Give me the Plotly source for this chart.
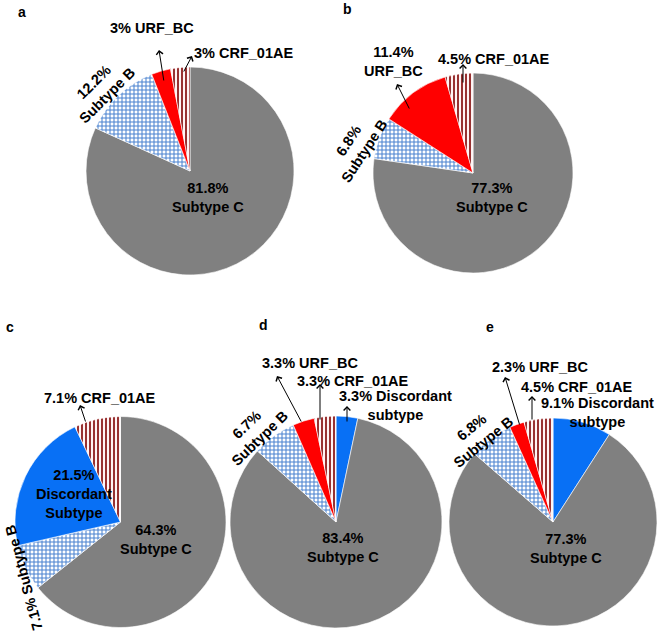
import plotly.graph_objects as go

W, H = 660, 631

# ---------------- data ----------------
panel_letters = ["a", "b", "c", "d", "e"]

cats_a = ["Subtype C", "Subtype B", "URF_BC", "CRF_01AE"]
vals_a = [81.8, 12.2, 3, 3]

cats_b = ["Subtype C", "Subtype B", "URF_BC", "CRF_01AE"]
vals_b = [77.3, 6.8, 11.4, 4.5]

cats_c = ["Subtype C", "Subtype B", "Discordant Subtype", "CRF_01AE"]
vals_c = [64.3, 7.1, 21.5, 7.1]

cats_d = ["Discordant subtype", "Subtype C", "Subtype B", "URF_BC", "CRF_01AE"]
vals_d = [3.3, 83.4, 6.7, 3.3, 3.3]

cats_e = ["Discordant subtype", "Subtype C", "Subtype B", "URF_BC", "CRF_01AE"]
vals_e = [9.1, 77.3, 6.8, 2.3, 4.5]

# ---------------- styles ----------------
GRAY = "#808080"
RED = "#FF0000"
BLUE = "#0870F5"
BGRID = "#4a82d0"
CRFLINE = "#8c1c1c"

style = {
    "Subtype C": dict(color=GRAY, shape="", fg=GRAY, bg=GRAY),
    "Subtype B": dict(color=BGRID, shape="+", fg=BGRID, bg="#ffffff"),
    "URF_BC": dict(color=RED, shape="", fg=RED, bg=RED),
    "CRF_01AE": dict(color=CRFLINE, shape="|", fg=CRFLINE, bg="#fff4f4"),
    "Discordant Subtype": dict(color=BLUE, shape="", fg=BLUE, bg=BLUE),
    "Discordant subtype": dict(color=BLUE, shape="", fg=BLUE, bg=BLUE),
}

# pie geometry (pixel center and radius)
geom = {
    "a": (190, 171, 104),
    "b": (473, 173, 100),
    "c": (120.5, 522, 105.5),
    "d": (336, 522, 106),
    "e": (553, 522, 104),
}
letter_pos = {"a": (22, 12), "b": (348, 9), "c": (10, 327), "d": (263, 325), "e": (490, 327)}

# label layout: (slice index, text cx, cy, angle, mode, arrow head (x,y), arrow tail (x,y))
labels = {
    "a": [
        (0, 208, 198, 0, "stack", None, None),
        (1, 101, 89, -45, "stack", None, None),
        (2, 152, 28, 0, "inline", (159, 50), (164, 82)),
        (3, 243, 53, 0, "inline", (192, 56), (183, 73)),
    ],
    "b": [
        (0, 492, 198, 0, "stack", None, None),
        (1, 357, 146, -57, "stack", None, None),
        (2, 393, 61, 0, "stack", (397, 84), (410, 110)),
        (3, 494, 59, 0, "inline", (463, 64), (463, 84)),
    ],
    "c": [
        (0, 156, 539, 0, "stack", None, None),
        (1, 24, 578, -105, "inline", None, None),
        (2, 74, 494, 0, "stack3", None, None),
        (3, 100, 398, 0, "inline", (80, 405), (86, 423)),
    ],
    "d": [
        (0, 395, 405, 0, "split", (347, 406), (347, 423)),
        (1, 343, 547, 0, "stack", None, None),
        (2, 253, 431, -44, "stack", None, None),
        (3, 310, 363, 0, "inline", (277, 376), (302, 423)),
        (4, 353, 381, 0, "inline", (320, 384), (320, 421)),
    ],
    "e": [
        (0, 597, 412, 0, "split", None, None),
        (1, 566, 548, 0, "stack", None, None),
        (2, 478, 435, -39, "stack", None, None),
        (3, 540, 367, 0, "inline", (505, 377), (520, 426)),
        (4, 577, 387, 0, "inline", (532, 396), (532, 421)),
    ],
}

panels = {"a": (cats_a, vals_a), "b": (cats_b, vals_b), "c": (cats_c, vals_c),
          "d": (cats_d, vals_d), "e": (cats_e, vals_e)}

FONT = "Liberation Sans, Arial, sans-serif"
FS = 14.5


def px(x):
    return x / W


def py(y):
    return 1 - y / H


fig = go.Figure()
annotations = []

for key in panel_letters:
    cats, vals = panels[key]
    cx, cy, r = geom[key]
    st = [style[c] for c in cats]
    fig.add_trace(go.Pie(
        labels=cats, values=vals, sort=False, direction="clockwise", rotation=0,
        textinfo="none", hoverinfo="label+value", showlegend=False,
        domain=dict(x=[px(cx - r), px(cx + r)], y=[py(cy + r), py(cy - r)]),
        marker=dict(
            colors=[s["color"] for s in st],
            line=dict(color="#ffffff", width=0.6),
            pattern=dict(
                shape=[s["shape"] for s in st],
                fgcolor=[s["fg"] for s in st],
                bgcolor=[s["bg"] for s in st],
                fillmode="replace",
                size=4, solidity=0.45,
            ),
        ),
    ))

    lx, ly = letter_pos[key]
    annotations.append(dict(x=px(lx), y=py(ly), xref="paper", yref="paper",
                            text=f"<b>{key}</b>", showarrow=False,
                            font=dict(family=FONT, size=14, color="#000"),
                            xanchor="center", yanchor="middle"))

    for (i, tx, ty, ang, mode, head, tail) in labels[key]:
        pct = f"{vals[i]:g}%"
        name = cats[i]
        if mode == "inline":
            txt = f"{pct} {name}"
        elif mode == "stack":
            txt = f"{pct}<br>{name}"
        elif mode == "stack3":
            txt = pct + "<br>" + name.replace(" ", "<br>")
        else:  # split
            first, rest = name.split(" ", 1)
            txt = f"{pct} {first}<br>{rest}"
        txt = "<br>".join(f"<b>{p}</b>" for p in txt.split("<br>"))
        annotations.append(dict(x=px(tx), y=py(ty), xref="paper", yref="paper",
                                text=txt, showarrow=False, textangle=ang,
                                font=dict(family=FONT, size=FS, color="#000"),
                                xanchor="center", yanchor="middle"))
        if head is not None:
            annotations.append(dict(x=px(head[0]), y=py(head[1]), xref="paper", yref="paper",
                                    ax=tail[0] - head[0], ay=tail[1] - head[1],
                                    text="", showarrow=True, arrowhead=4, arrowsize=1.3,
                                    arrowwidth=1, arrowcolor="#000", standoff=0))

fig.update_layout(width=W, height=H, margin=dict(l=0, r=0, t=0, b=0),
                  paper_bgcolor="#ffffff", plot_bgcolor="#ffffff",
                  annotations=annotations)

fig.write_html("out.html", config={"displayModeBar": False},
               post_script="document.body.style.margin='0px';document.body.style.overflow='hidden';")
